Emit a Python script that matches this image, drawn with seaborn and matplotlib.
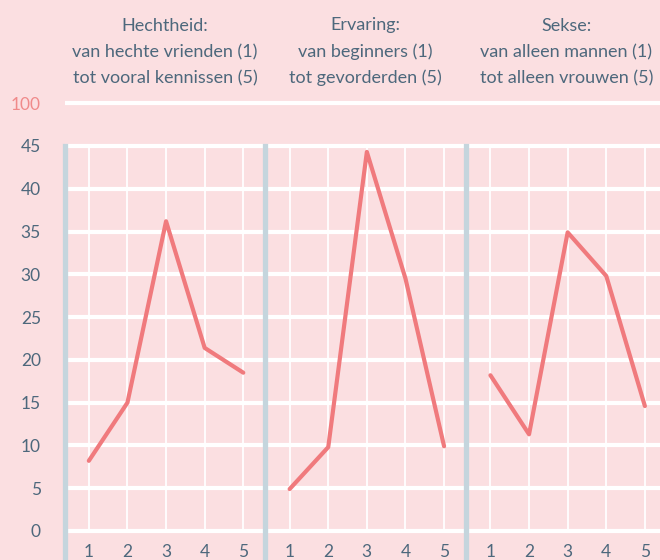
import matplotlib
matplotlib.use("Agg")
import matplotlib.pyplot as plt
import seaborn as sns
import pandas as pd

# ---- data ----
categories = [1, 2, 3, 4, 5]
hechtheid = [8.2, 15.0, 36.2, 21.4, 18.5]
ervaring = [4.9, 9.8, 44.3, 29.5, 9.9]
sekse = [18.2, 11.3, 34.9, 29.8, 14.6]
panel_titles = [
    "Hechtheid:\nvan hechte vrienden (1)\ntot vooral kennissen (5)",
    "Ervaring:\nvan beginners (1)\ntot gevorderden (5)",
    "Sekse:\nvan alleen mannen (1)\ntot alleen vrouwen (5)",
]
y_tick_values = [0, 5, 10, 15, 20, 25, 30, 35, 40, 45, 50]
y_tick_labels = ["0", "5", "10", "15", "20", "25", "30", "35", "40", "45", "100"]
x_tick_labels = ["1", "2", "3", "4", "5"]

series = [hechtheid, ervaring, sekse]

BG = "#fbdfe1"
LINE = "#f07a7d"
BAR = "#c5d5dd"
TEXT = "#4d687c"
PINK_TXT = "#f08a8a"

sns.set_theme(style="white")
plt.rcParams["font.family"] = ["Lato", "DejaVu Sans"]

fig = plt.figure(figsize=(6.6, 5.6), dpi=100, facecolor=BG)
W, H = 660.0, 560.0
panel_left = 64.5
panel_w = 200.8
top_px = 100.0

for i, (vals, title) in enumerate(zip(series, panel_titles)):
    left = panel_left + i * panel_w
    ax = fig.add_axes([left / W, 0.0, panel_w / W, (H - top_px) / H])
    ax.set_facecolor(BG)
    df = pd.DataFrame({"x": categories, "y": vals})
    ax.set_xlim(0.37, 5.57)
    ax.set_ylim(-3.39, 50.37)
    ax.set_yticks(y_tick_values)
    ax.set_xticks(categories)
    ax.set_xticklabels(x_tick_labels)
    ax.grid(axis="y", color="white", linewidth=3.0, zorder=1)
    ax.grid(axis="x", visible=False)
    ax.set_axisbelow(True)
    ax.vlines(categories, 0, 45, color="white", linewidth=1.3, zorder=1)
    sns.lineplot(data=df, x="x", y="y", ax=ax, color=LINE, linewidth=3.0,
                 solid_capstyle="round", zorder=3)
    ax.set_xlabel("")
    ax.set_ylabel("")
    for s in ["top", "right", "bottom"]:
        ax.spines[s].set_visible(False)
    ax.spines["left"].set_color(BAR)
    ax.spines["left"].set_linewidth(3.8)
    ax.spines["left"].set_bounds(-3.39, 45)
    ax.spines["left"].set_zorder(2)
    ax.tick_params(axis="x", length=0, pad=-11.5, labelsize=12.5, labelcolor=TEXT)
    if i == 0:
        ax.set_yticklabels(y_tick_labels)
        ax.tick_params(axis="y", length=0, pad=17, labelsize=12.5, labelcolor=TEXT)
        ax.get_yticklabels()[-1].set_color(PINK_TXT)
    else:
        ax.tick_params(axis="y", length=0, labelleft=False)
    ax.set_title(title, fontsize=13, color=TEXT, linespacing=1.75, pad=12)

fig.savefig("out.png", dpi=100, facecolor=BG)
